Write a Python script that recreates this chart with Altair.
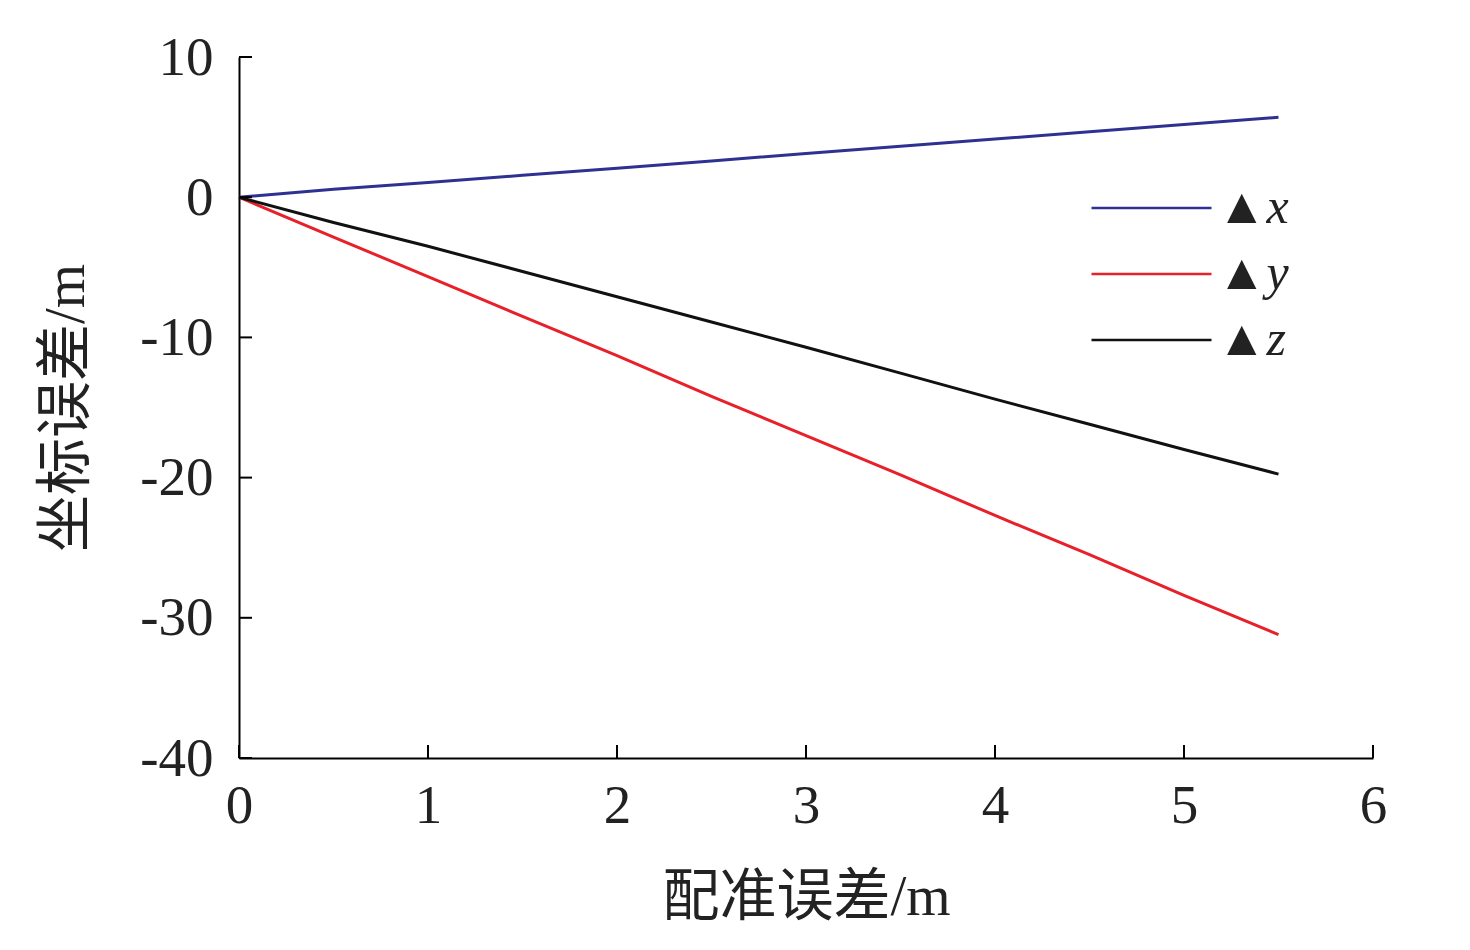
import altair as alt
import pandas as pd

xs = [0, 0.5, 1.0, 1.5, 2.0, 2.5, 3.0, 3.5, 4.0, 4.5, 5.0, 5.5]
dx = [0, 0.57, 1.04, 1.56, 2.07, 2.59, 3.11, 3.63, 4.15, 4.66, 5.18, 5.7]
dy = [0, -2.84, -5.67, -8.5, -11.3, -14.2, -17.0, -19.8, -22.7, -25.5, -28.4, -31.2]
dz = [0, -1.8, -3.5, -5.3, -7.1, -8.9, -10.7, -12.55, -14.4, -16.2, -18.0, -19.75]
series_names = ["▲x", "▲y", "▲z"]
series_colors = ["#2e3192", "#e8202a", "#111111"]
x_ticks = [0, 1, 2, 3, 4, 5, 6]
y_ticks = [10, 0, -10, -20, -30, -40]

rows = []
for name, vals in zip(series_names, [dx, dy, dz]):
    for xv, yv in zip(xs, vals):
        rows.append({"err": xv, "val": yv, "series": name})
df = pd.DataFrame(rows)

FONT = "Liberation Serif, Noto Sans CJK SC"

xscale = alt.Scale(domain=[0, 6], nice=False, zero=False)
yscale = alt.Scale(domain=[-40, 10], nice=False, zero=False)
x_axis = alt.Axis(title="配准误差/m", values=x_ticks, labelExpr="'' + datum.value",
                  tickSize=0, grid=False, labelPadding=21, titlePadding=36,
                  labelFlush=False)
y_axis = alt.Axis(title="坐标误差/m", values=y_ticks, labelExpr="'' + datum.value",
                  tickSize=0, grid=False, labelPadding=26, titlePadding=44,
                  labelFlush=False)

lines = alt.Chart(df).mark_line(strokeWidth=3).encode(
    x=alt.X("err:Q", scale=xscale, axis=x_axis),
    y=alt.Y("val:Q", scale=yscale, axis=y_axis),
    color=alt.Color("series:N",
                    scale=alt.Scale(domain=series_names, range=series_colors),
                    sort=series_names,
                    legend=alt.Legend(title=None, orient="none", legendX=851, legendY=126,
                                      symbolType="stroke", symbolSize=14400,
                                      symbolStrokeWidth=2.6, labelFontSize=50,
                                      labelFont=FONT, labelFontStyle="italic",
                                      labelOffset=4, rowPadding=16, clipHeight=50,
                                      labelColor="#222222")),
)

xt = pd.DataFrame({"err": x_ticks, "val": [-40] * len(x_ticks)})
yt = pd.DataFrame({"val": y_ticks, "err": [0] * len(y_ticks)})

xtick_marks = alt.Chart(xt).mark_tick(orient="vertical", size=13, thickness=2, opacity=1,
                                      color="black", yOffset=-6.5).encode(
    x=alt.X("err:Q", scale=xscale, axis=x_axis), y=alt.Y("val:Q", scale=yscale, axis=y_axis))
ytick_marks = alt.Chart(yt).mark_tick(orient="horizontal", size=13, thickness=2, opacity=1,
                                      color="black", xOffset=6.5).encode(
    y=alt.Y("val:Q", scale=yscale, axis=y_axis), x=alt.X("err:Q", scale=xscale, axis=x_axis))

chart = alt.layer(lines, xtick_marks, ytick_marks).properties(
    width=1134, height=701,
    background="white",
    autosize=alt.AutoSizeParams(type="none"),
    padding={"left": 231, "top": 49, "right": 80, "bottom": 170},
).configure_view(stroke=None).configure_axis(
    domainColor="black", domainWidth=2,
    labelFont=FONT, labelFontSize=55, labelColor="#222222",
    titleFont=FONT, titleFontSize=57, titleFontWeight="normal", titleColor="#222222",
)

chart.save("out.html", embed_options={"renderer": "svg", "actions": False})
